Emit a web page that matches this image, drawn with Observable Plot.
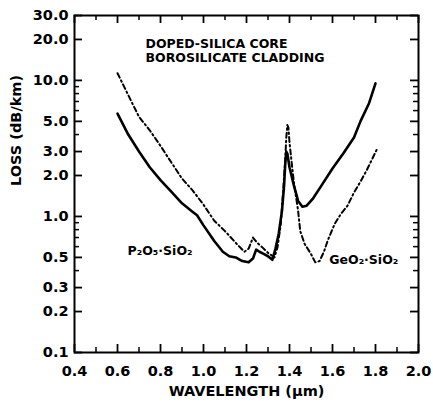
<!DOCTYPE html>
<html><head><meta charset="utf-8">
<script src="https://cdn.jsdelivr.net/npm/d3@7"></script>
<script src="https://cdn.jsdelivr.net/npm/@observablehq/plot@0.6"></script>
<style>html,body{margin:0;padding:0;background:#fff}svg{display:block}</style>
</head><body><div id="chart"></div>
<script>
// P2O5·SiO2 (solid)
const p2o5Wavelength = [0.60,0.65,0.70,0.75,0.80,0.85,0.90,0.95,0.97,1.00,1.05,1.09,1.12,1.15,1.18,1.21,1.23,1.245,1.26,1.28,1.30,1.32,1.335,1.35,1.365,1.375,1.38,1.385,1.39,1.40,1.42,1.44,1.46,1.48,1.51,1.55,1.60,1.65,1.70,1.73,1.77,1.80];
const p2o5Loss =       [5.7,4.0,3.0,2.3,1.85,1.52,1.25,1.08,1.02,0.86,0.66,0.55,0.51,0.50,0.47,0.46,0.49,0.57,0.55,0.53,0.51,0.48,0.58,0.75,1.1,1.7,2.4,3.0,2.9,2.3,1.7,1.3,1.18,1.2,1.36,1.7,2.25,2.9,3.8,5.0,6.8,9.5];
// GeO2·SiO2 (dash-dot)
const geo2Wavelength = [0.60,0.65,0.70,0.75,0.80,0.85,0.90,0.95,1.00,1.05,1.10,1.15,1.19,1.21,1.23,1.25,1.275,1.30,1.33,1.345,1.36,1.37,1.38,1.385,1.39,1.395,1.40,1.41,1.42,1.44,1.45,1.47,1.50,1.52,1.54,1.56,1.58,1.61,1.64,1.67,1.70,1.73,1.76,1.81];
const geo2Loss =       [11.3,7.8,5.4,4.3,3.3,2.5,1.9,1.55,1.22,0.93,0.78,0.64,0.55,0.58,0.70,0.64,0.59,0.54,0.50,0.6,0.9,1.5,2.6,3.8,4.7,4.5,3.5,2.5,1.8,1.1,0.78,0.63,0.53,0.46,0.47,0.55,0.68,0.88,1.05,1.2,1.5,1.8,2.2,3.2];

const xTickValues = [0.4,0.6,0.8,1.0,1.2,1.4,1.6,1.8,2.0];
const xTickLabels = ["0.4","0.6","0.8","1.0","1.2","1.4","1.6","1.8","2.0"];
const xMinorTicks = [0.5,0.7,0.9,1.1,1.3,1.5,1.7,1.9];
const yTickValues = [0.1,0.2,0.3,0.5,1,2,3,5,10,20,30];
const yTickLabels = ["0.1","0.2","0.3","0.5","1.0","2.0","3.0","5.0","10.0","20.0","30.0"];
const yMinorTicks = [0.4,0.6,0.7,0.8,0.9,4,6,7,8,9];

const titleLine1 = "DOPED-SILICA CORE";
const titleLine2 = "BOROSILICATE CLADDING";
const xLabel = "WAVELENGTH (μm)";
const yLabel = "LOSS (dB/km)";
const curveLabels = [
  {label:"P₂O₅·SiO₂", wl:0.647, loss:0.56},
  {label:"GeO₂·SiO₂", wl:1.585, loss:0.48}
];

const p2o5 = p2o5Wavelength.map((w,i)=>({w, v:p2o5Loss[i]}));
const geo2 = geo2Wavelength.map((w,i)=>({w, v:geo2Loss[i]}));
const yTicks = yTickValues.map((v,i)=>({v, label:yTickLabels[i]}));
const xTicks = xTickValues.map((v,i)=>({v, label:xTickLabels[i]}));

const W = 433, H = 403, mL = 74, mR = 15, mT = 15, mB = 51;
const iw = W - mL - mR, ih = H - mT - mB;
const font = "DejaVu Sans";
const tickFont = 14.5;
const majorLen = 8, minorLen = 5;

const chart = Plot.plot({
  width: W, height: H,
  marginLeft: mL, marginRight: mR, marginTop: mT, marginBottom: mB,
  style: {fontFamily: font, fontWeight: "bold", background: "#fff", color: "#000"},
  x: {domain: [0.4, 2.0], axis: null},
  y: {type: "log", domain: [0.1, 30], axis: null},
  marks: [
    Plot.line(p2o5, {x: "w", y: "v", stroke: "#000", strokeWidth: 2.6}),
    Plot.line(geo2, {x: "w", y: "v", stroke: "#000", strokeWidth: 2, strokeDasharray: "5,3,1.5,3"}),
    Plot.frame({stroke: "#000", strokeWidth: 2}),
    // inward ticks on all four sides
    Plot.tickY(yTickValues, {y: d => d, insetRight: iw - majorLen, stroke: "#000", strokeWidth: 1.8}),
    Plot.tickY(yMinorTicks, {y: d => d, insetRight: iw - minorLen, stroke: "#000", strokeWidth: 1.5}),
    Plot.tickY(yTickValues, {y: d => d, insetLeft: iw - majorLen, stroke: "#000", strokeWidth: 1.8}),
    Plot.tickY(yMinorTicks, {y: d => d, insetLeft: iw - minorLen, stroke: "#000", strokeWidth: 1.5}),
    Plot.tickX(xTickValues, {x: d => d, insetTop: ih - majorLen, stroke: "#000", strokeWidth: 1.8}),
    Plot.tickX(xMinorTicks, {x: d => d, insetTop: ih - minorLen, stroke: "#000", strokeWidth: 1.5}),
    Plot.tickX(xTickValues, {x: d => d, insetBottom: ih - majorLen, stroke: "#000", strokeWidth: 1.8}),
    Plot.tickX(xMinorTicks, {x: d => d, insetBottom: ih - minorLen, stroke: "#000", strokeWidth: 1.5}),
    // tick labels
    Plot.text(yTicks, {y: "v", text: "label", frameAnchor: "left", textAnchor: "end", dx: -6, fontSize: tickFont, fontWeight: "bold", fill: "#000"}),
    Plot.text(xTicks, {x: "v", text: "label", frameAnchor: "bottom", lineAnchor: "middle", dy: 19, fontSize: tickFont, fontWeight: "bold", fill: "#000"}),
    // axis titles
    Plot.text([xLabel], {frameAnchor: "bottom", dy: 39, lineAnchor: "middle", fontSize: 14.5, fontWeight: "bold", fill: "#000"}),
    Plot.text([yLabel], {frameAnchor: "left", dx: -58, dy: 2, rotate: -90, lineAnchor: "middle", fontSize: 14.5, fontWeight: "bold", fill: "#000"}),
    // annotations
    Plot.text([titleLine1], {frameAnchor: "top-left", dx: 71, dy: 28, textAnchor: "start", lineAnchor: "middle", fontSize: 12.5, fontWeight: "bold", fill: "#000"}),
    Plot.text([titleLine2], {frameAnchor: "top-left", dx: 71, dy: 42, textAnchor: "start", lineAnchor: "middle", fontSize: 12.5, fontWeight: "bold", fill: "#000"}),
    Plot.text(curveLabels, {x: "wl", y: "loss", text: "label", textAnchor: "start", fontSize: 12.5, fontWeight: "bold", fill: "#000"})
  ]
});
document.getElementById("chart").appendChild(chart);
</script>
</body></html>
